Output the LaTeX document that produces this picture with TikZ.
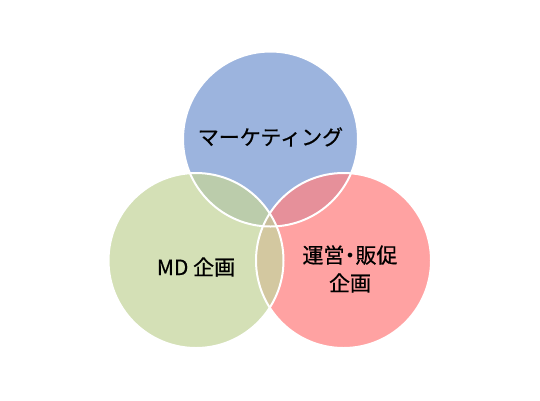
\documentclass[tikz,border=0pt]{standalone}
\usepackage{fontspec}
\newfontfamily\cjk[FakeBold=0.6]{Noto Sans CJK JP}
\definecolor{cblue}{HTML}{9CB4DE}
\definecolor{cgreen}{HTML}{D4E0B6}
\definecolor{cred}{HTML}{FFA2A2}
\definecolor{cbg}{HTML}{BBCCAB}
\definecolor{cbr}{HTML}{E6909A}
\definecolor{cgr}{HTML}{D3C8A0}
\definecolor{cbgr}{HTML}{C9BE9C}
\begin{document}
\begin{tikzpicture}[x=1pt,y=-1pt,
  ring/.style={draw=white,line width=2pt},
  lbl/.style={font=\cjk\fontsize{21}{28}\selectfont,text=black,align=center}]
\useasboundingbox[fill=white] (0,0) rectangle (540,400);
\def\R{87.5}
\coordinate (ct) at (270.5,139);
\coordinate (cl) at (196,260.5);
\coordinate (cr) at (343.5,260.5);
% base fills
\fill[cblue] (ct) circle (\R);
\fill[cgreen] (cl) circle (\R);
\fill[cred] (cr) circle (\R);
% pairwise overlaps
\begin{scope}\clip (ct) circle (\R); \fill[cbg] (cl) circle (\R); \end{scope}
\begin{scope}\clip (ct) circle (\R); \fill[cbr] (cr) circle (\R); \end{scope}
\begin{scope}\clip (cl) circle (\R); \fill[cgr] (cr) circle (\R); \end{scope}
\begin{scope}\clip (ct) circle (\R); \clip (cl) circle (\R); \fill[cbgr] (cr) circle (\R); \end{scope}
% borders
\draw[ring] (ct) circle (\R);
\draw[ring] (cl) circle (\R);
\draw[ring] (cr) circle (\R);
% labels
\node[lbl] (tmk) at (270.5,137) {マーケティング};
\node[lbl] (tmd) at (196,267) {MD 企画};
\node[lbl] (top) at (350,269) {運営\kern-5pt・\kern-5pt 販促\\企画};
\end{tikzpicture}
\end{document}
